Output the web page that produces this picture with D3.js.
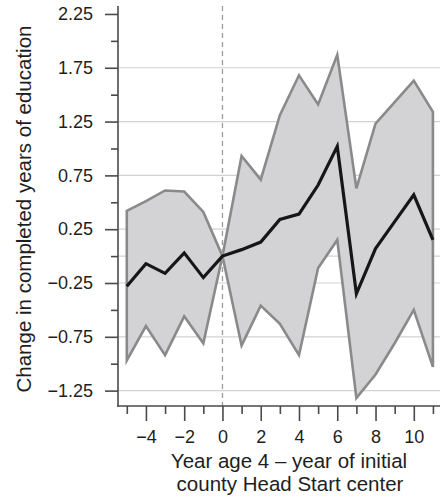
<!DOCTYPE html>
<html>
<head>
<meta charset="utf-8">
<script src="https://cdn.jsdelivr.net/npm/d3@7"></script>
<style>
  html, body { margin: 0; padding: 0; background: #fff; }
  svg { display: block; font-family: "Liberation Sans", Arial, Helvetica, sans-serif; }
</style>
</head>
<body>
<svg id="chart" width="440" height="502"></svg>
<script>
// Event time: year age 4 minus year of initial county Head Start center
const years = [-5, -4, -3, -2, -1, 0, 1, 2, 3, 4, 5, 6, 7, 8, 9, 10, 11];
// Point estimates of the change in completed years of education
const estimate = [-0.28, -0.07, -0.16, 0.03, -0.20, 0.00, 0.06, 0.13, 0.34, 0.39, 0.66, 1.02, -0.35, 0.07, 0.32, 0.57, 0.15];
// Upper and lower bounds of the confidence band
const upper = [0.42, 0.51, 0.61, 0.60, 0.41, 0.00, 0.93, 0.71, 1.31, 1.68, 1.41, 1.87, 0.63, 1.23, 1.43, 1.63, 1.34];
const lower = [-0.97, -0.65, -0.92, -0.56, -0.81, 0.00, -0.83, -0.46, -0.63, -0.92, -0.11, 0.15, -1.32, -1.10, -0.81, -0.50, -1.03];
// Axis ticks
const yLabelTicks = [-1.25, -0.75, -0.25, 0.25, 0.75, 1.25, 1.75, 2.25];
const yMinorTicks = [-1.0, -0.5, 0, 0.5, 1.0, 1.5, 2.0];
const yGridValues = [-1.25, -0.75, -0.25, 0, 0.25, 0.75, 1.25, 1.75];
const xLabelTicks = [-4, -2, 0, 2, 4, 6, 8, 10];
const xMinorTicks = [-5, -3, -1, 1, 3, 5, 7, 9, 11];

const svg = d3.select("#chart");

const x = d3.scaleLinear().domain([-5.46, 11.37]).range([118, 440]);
const y = d3.scaleLinear().domain([-1.393, 2.324]).range([406, 6]);

const rows = years.map((t, i) => ({ t, est: estimate[i], hi: upper[i], lo: lower[i] }));

// Horizontal gridlines
svg.append("g")
  .selectAll("line")
  .data(yGridValues)
  .join("line")
  .attr("x1", x.range()[0]).attr("x2", x.range()[1])
  .attr("y1", d => y(d)).attr("y2", d => y(d))
  .attr("stroke", "#d2d2d2")
  .attr("stroke-width", 1.2);

// Confidence band
const band = d3.area()
  .x(d => x(d.t))
  .y0(d => y(d.lo))
  .y1(d => y(d.hi));

svg.append("path")
  .datum(rows)
  .attr("d", band)
  .attr("fill", "#d3d3d5")
  .attr("stroke", "#8a8a8a")
  .attr("stroke-width", 2.6)
  .attr("stroke-linejoin", "miter");

// Reference line at event year 0
svg.append("line")
  .attr("x1", x(0)).attr("x2", x(0))
  .attr("y1", y.range()[1]).attr("y2", y.range()[0])
  .attr("stroke", "#9a9a9a")
  .attr("stroke-width", 1.3)
  .attr("stroke-dasharray", "5,4");

// Point estimate line
svg.append("path")
  .datum(rows)
  .attr("d", d3.line().x(d => x(d.t)).y(d => y(d.est)))
  .attr("fill", "none")
  .attr("stroke", "#161616")
  .attr("stroke-width", 3.2)
  .attr("stroke-linejoin", "miter");

// Axes
const axisColor = "#4a4a4a";
const fmtY = d3.format(".2f");
const fmtX = d3.format("d");

function styleAxis(g) {
  g.select(".domain").remove();
  g.selectAll(".tick line").attr("stroke", axisColor).attr("stroke-width", 1.6);
  g.selectAll(".tick text").attr("fill", "#1e1e1e").style("font-size", "18px");
}

svg.append("g")
  .attr("transform", `translate(${x.range()[0]},0)`)
  .call(d3.axisLeft(y).tickValues(yLabelTicks).tickSize(13).tickPadding(12).tickFormat(fmtY))
  .call(styleAxis);

svg.append("g")
  .attr("transform", `translate(${x.range()[0]},0)`)
  .call(d3.axisLeft(y).tickValues(yMinorTicks).tickSize(7).tickFormat(""))
  .call(styleAxis);

svg.append("g")
  .attr("transform", `translate(0,${y.range()[0]})`)
  .call(d3.axisBottom(x).tickValues(xLabelTicks).tickSize(15).tickPadding(9).tickFormat(fmtX))
  .call(styleAxis);

svg.append("g")
  .attr("transform", `translate(0,${y.range()[0]})`)
  .call(d3.axisBottom(x).tickValues(xMinorTicks).tickSize(8).tickFormat(""))
  .call(styleAxis);

// Axis lines
svg.append("line")
  .attr("x1", x.range()[0]).attr("x2", x.range()[0])
  .attr("y1", y.range()[1]).attr("y2", y.range()[0] + 0.8)
  .attr("stroke", axisColor).attr("stroke-width", 1.6);
svg.append("line")
  .attr("x1", x.range()[0] - 0.8).attr("x2", x.range()[1])
  .attr("y1", y.range()[0]).attr("y2", y.range()[0])
  .attr("stroke", axisColor).attr("stroke-width", 1.6);

// Axis titles
svg.append("text")
  .attr("transform", "translate(31,209) rotate(-90)")
  .attr("text-anchor", "middle")
  .attr("fill", "#1e1e1e")
  .style("font-size", "20.5px")
  .text("Change in completed years of education");

const xTitle = svg.append("text")
  .attr("text-anchor", "middle")
  .attr("fill", "#1e1e1e")
  .style("font-size", "20.5px");
xTitle.append("tspan").attr("x", 289).attr("y", 468).text("Year age 4 \u2013 year of initial");
xTitle.append("tspan").attr("x", 290).attr("y", 491).text("county Head Start center");
</script>
</body>
</html>
